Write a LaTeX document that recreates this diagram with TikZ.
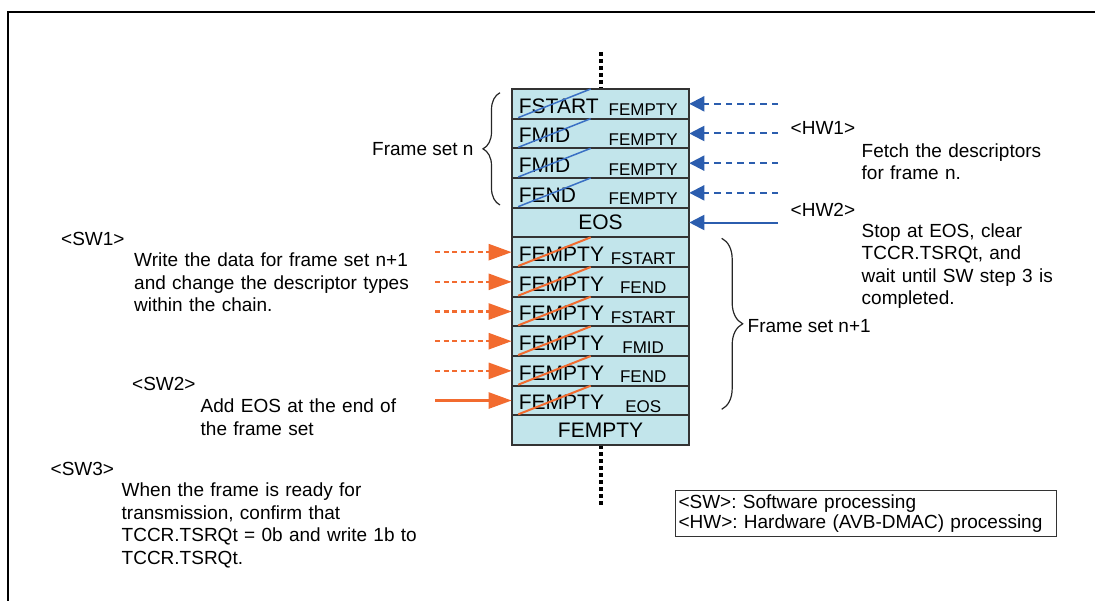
\documentclass[tikz,border=0pt]{standalone}
\usepackage{fontspec}
\setmainfont{Liberation Sans}
\usepackage{tikz}
\usetikzlibrary{arrows.meta, positioning, calc, decorations.pathreplacing}
\definecolor{cellfill}{RGB}{194,229,235}
\definecolor{cellline}{RGB}{51,51,51}
\definecolor{hwblue}{RGB}{43,93,174}
\definecolor{hwdiag}{RGB}{58,112,196}
\definecolor{sworange}{RGB}{242,107,47}
\frenchspacing

\begin{document}
\begin{tikzpicture}[
  x=1pt, y=-1pt, font=\fontsize{19}{22.5}\selectfont, node distance=0pt,
  cell/.style={rectangle, draw=cellline, line width=2pt, fill=cellfill, minimum width=177.6pt, minimum height=29.67pt, inner sep=0pt, outer sep=0pt, font=\fontsize{21}{21}\selectfont},
  tagbig/.style={anchor=base west, inner sep=0pt, font=\fontsize{21}{21}\selectfont},
  tagsmall/.style={anchor=base, inner sep=0pt, font=\fontsize{17}{17}\selectfont},
  txt/.style={anchor=base west, inner sep=0pt},
  para/.style={anchor=base west, inner sep=0pt, align=left, text width=320pt},
  hwa/.style={-{Triangle[length=15pt, width=15pt]}, hwblue, line width=2pt},
  swa/.style={-{Triangle[length=23pt, width=16pt]}, sworange, line width=2.5pt},
  hwdash/.style={dash pattern=on 6.5pt off 5pt},
  swdash/.style={dash pattern=on 5pt off 3.5pt},
  brc/.style={decorate, line width=1.2pt, black!85},
  chain/.style={line width=4pt, dash pattern=on 4pt off 3pt}]
\useasboundingbox (0,0) rectangle (1095,601);
\draw[line width=2pt] (8,601) -- (8,12) -- (1095,12);
% descriptor chain
\coordinate (ctop) at (600.5,52);
\coordinate (cbot) at (600.5,505);
\draw[chain] (ctop) -- (600.5,89);
\draw[chain] (600.5,445) -- (cbot);
\node[cell] (r1) at (600.5,103.83) {};
\node[cell, below=of r1] (r2) {};
\node[cell, below=of r2] (r3) {};
\node[cell, below=of r3] (r4) {};
\node[cell, below=of r4] (r5) {EOS};
\node[cell, below=of r5] (r6) {};
\node[cell, below=of r6] (r7) {};
\node[cell, below=of r7] (r8) {};
\node[cell, below=of r8] (r9) {};
\node[cell, below=of r9] (r10) {};
\node[cell, below=of r10] (r11) {};
\node[cell, below=of r11] (r12) {FEMPTY};
\foreach \n/\tA/\tB/\dc/\dw in {1/FSTART/FEMPTY/hwdiag/1.5, 2/FMID/FEMPTY/hwdiag/1.5, 3/FMID/FEMPTY/hwdiag/1.5, 4/FEND/FEMPTY/hwdiag/1.5,
  6/FEMPTY/FSTART/sworange/2, 7/FEMPTY/FEND/sworange/2, 8/FEMPTY/FSTART/sworange/2, 9/FEMPTY/FMID/sworange/2, 10/FEMPTY/FEND/sworange/2, 11/FEMPTY/EOS/sworange/2}{
  \node[tagbig] (lb\n) at ($(r\n.south west)+(7,-5.5)$) {\tA};
  \node[tagsmall] (ls\n) at ($(r\n.south west)+(131.5,-3)$) {\tB};
  \draw[\dc, line width=\dw pt] ($(r\n.south west)+(6.5,-1)$) -- ($(r\n.north west)+(79,0)$);
}
% hardware side
\coordinate (hx) at (778,0);
\foreach \n in {1,...,4}{
  \coordinate (hw\n) at (r\n.east -| hx);
  \draw[hwa, hwdash] (hw\n) -- (r\n.east);
}
\coordinate (hw5) at (r5.east -| hx);
\draw[hwa] (hw5) -- (r5.east);
% software side
\coordinate (sx) at (435,0);
\foreach \n in {6,...,10}{
  \coordinate (sw\n) at (r\n.west -| sx);
  \draw[swa, swdash] (sw\n) -- (r\n.west);
}
\coordinate (sw11) at (r11.west -| sx);
\draw[swa] (sw11) -- (r11.west);
% frame sets
\draw[brc, decoration={brace, amplitude=17pt}] (500,205) -- (500,92.7);
\draw[brc, decoration={brace, amplitude=21pt}] (721.7,238.3) -- (721.7,409.3);
\node[txt] (fsn) at (372,156) {Frame set n};
\node[txt] (fsn1) at (747.5,332.3) {Frame set n+1};
% steps
\node[txt] (hw1l) at (790.5,134.3) {<HW1>};
\node[para] (hw1t) at (861.5,157.3) {Fetch the descriptors\\for frame n.};
\node[txt] (hw2l) at (790.5,216.7) {<HW2>};
\node[para] (hw2t) at (861.5,237.3) {Stop at EOS, clear\\TCCR.TSRQt, and\\wait until SW step 3 is\\completed.};
\node[txt] (sw1l) at (61,246) {<SW1>};
\node[para] (sw1t) at (134,266.7) {Write the data for frame set n+1\\and change the descriptor types\\within the chain.};
\node[txt] (sw2l) at (132,390.7) {<SW2>};
\node[para] (sw2t) at (200.5,412.7) {Add EOS at the end of\\the frame set};
\node[txt] (sw3l) at (50.5,475) {<SW3>};
\node[para] (sw3t) at (121.5,496.7) {When the frame is ready for\\transmission, confirm that\\TCCR.TSRQt = 0b and write 1b to\\TCCR.TSRQt.};
\node[draw=black!80, line width=1pt, anchor=north west, align=left, inner xsep=3pt, inner ysep=0pt, minimum width=381pt, minimum height=46pt, text width=375pt, font=\fontsize{19}{20.5}\selectfont] (leg) at (675,490) {<SW>: Software processing\\<HW>: Hardware (AVB-DMAC) processing};
\end{tikzpicture}
\end{document}
